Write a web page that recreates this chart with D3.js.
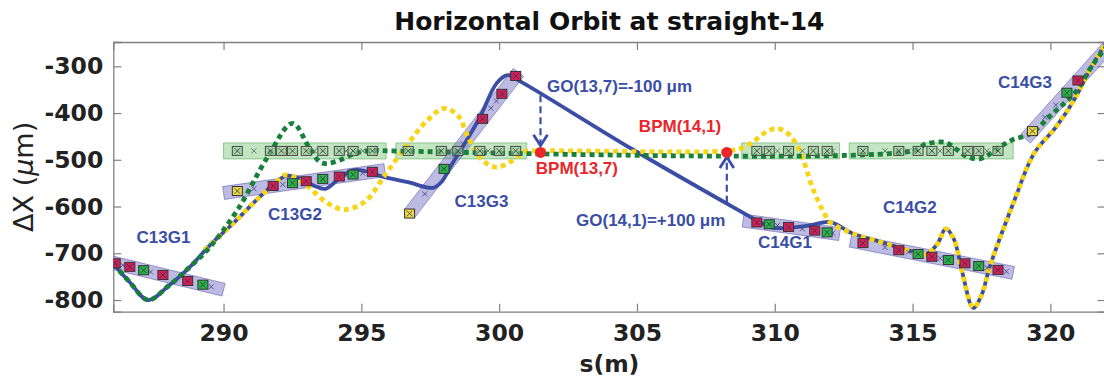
<!DOCTYPE html>
<html>
<head>
<meta charset="utf-8">
<script src="https://cdn.jsdelivr.net/npm/d3@7"></script>
<style>
  body { margin: 0; background: #fff; }
  text { font-family: "DejaVu Sans", sans-serif; }
</style>
</head>
<body>
<svg id="chart"></svg>
<script>
// ---- data (s in m, dX in um) ----
const sBlue = [286.0, 286.6, 287.26, 288.0, 288.8, 289.5, 290.35, 291.2, 291.9, 292.3, 292.8, 293.3, 293.7, 294.2, 294.7, 295.2, 295.7, 296.7, 297.6, 297.9, 298.3, 298.7, 299.3, 299.9, 300.3, 300.7, 304.85, 308.6, 309.3, 309.9, 310.6, 311.3, 312.0, 312.8, 313.8, 314.8, 315.5, 315.9, 316.2, 316.5, 316.8, 317.2, 317.5, 317.8, 318.7, 319.4, 320.2, 320.85, 321.5, 322.2];
const vBlue = [-723, -762, -800, -770, -728, -683, -636, -586, -548, -534, -540, -556, -562, -540, -522, -525, -535, -548, -560, -548, -508, -470, -409, -337, -319, -330, -478, -605, -628, -645, -645, -640, -633, -657, -675, -693, -702, -680, -648, -670, -740, -817, -790, -729, -586, -487, -430, -373, -300, -235];

const sYellow = [289.3, 289.5, 290.35, 291.2, 291.9, 292.2, 292.6, 293.1, 293.7, 294.3, 294.7, 295.2, 295.9, 296.6, 297.4, 298.0, 298.5, 298.9, 299.4, 299.9, 300.5, 300.9, 301.3, 308.3, 308.8, 309.2, 309.7, 310.1, 310.5, 310.9, 311.4, 311.8, 312.0, 312.8, 313.8, 314.8, 315.5, 315.9, 316.2, 316.5, 316.8, 317.2, 317.5, 317.8, 318.7, 319.4, 320.2, 320.85, 321.5, 322.2];
const vYellow = [-693, -683, -636, -586, -548, -533, -538, -559, -590, -606, -603, -586, -529, -473, -415, -390, -405, -455, -501, -516, -501, -483, -481, -481, -475, -462, -440, -433, -445, -480, -565, -615, -633, -657, -675, -693, -702, -680, -648, -670, -740, -817, -790, -729, -586, -487, -430, -373, -300, -235];

const sGreen = [286.0, 286.6, 287.26, 288.0, 288.8, 289.5, 290.5, 291.6, 292.5, 293.1, 293.5, 293.75, 294.2, 294.8, 295.4, 296.0, 315.0, 315.5, 316.2, 316.6, 317.0, 317.5, 318.1, 318.6, 319.3, 320.1, 320.9, 321.5, 322.2];
const vGreen = [-723, -762, -800, -770, -728, -687, -608, -494, -422, -473, -505, -508, -501, -486, -480, -481, -481, -466, -463, -478, -494, -497, -475, -458, -443, -400, -356, -300, -245];

// girders (misaligned, purple) : start / end of centre line
const girderName = ["C13G1", "C13G2", "C13G3", "C14G1", "C14G2", "C14G3"];
const girderS0 = [285.9, 290.0, 296.75, 308.85, 312.75, 319.1];
const girderV0 = [-719, -571, -615, -630, -673, -455];
const girderS1 = [290.0, 295.85, 300.7, 312.35, 318.65, 322.3];
const girderV1 = [-778, -522, -313, -659, -742, -245];

// squares on the girders (r = red, g = green, y = yellow)
const girderMarkS = [
  [286.07, 286.6, 287.1, 287.8, 288.7, 289.25],
  [290.5, 291.8, 292.5, 293.0, 293.6, 294.2, 294.7, 295.4],
  [296.75, 298.0, 299.4, 300.1, 300.6],
  [309.35, 309.8, 310.5, 311.45, 311.9],
  [313.2, 314.5, 315.2, 315.7, 316.3, 316.9, 317.4, 318.1],
  [319.35, 320.6, 321.0]
];
const girderMarkType = [
  ["r", "r", "g", "r", "r", "g"],
  ["y", "r", "g", "r", "g", "r", "g", "r"],
  ["y", "g", "r", "r", "r"],
  ["r", "g", "r", "r", "g"],
  ["r", "r", "g", "r", "g", "r", "g", "r"],
  ["y", "g", "r"]
];
const girderCrossS = [
  [286.35, 287.35, 289.55],
  [291.1, 292.15, 294.45, 295.05],
  [297.3, 298.4, 298.7, 299.7, 299.9],
  [310.1, 311.0, 312.1],
  [314.0, 314.85, 316.0, 317.7, 318.4],
  [319.8, 320.2]
];

// aligned girders (green, flat)
const flatLevel = -481;
const flatS0 = [290.0, 296.25, 308.8, 312.7];
const flatS1 = [295.9, 301.0, 312.35, 318.65];
const flatMarkS = [290.5, 291.7, 292.1, 292.5, 293.0, 293.6, 294.2, 294.7, 295.4,
  296.7, 297.9, 298.5, 299.3, 300.0, 300.6,
  309.35, 309.8, 310.5, 311.4, 311.9,
  313.2, 314.5, 315.2, 315.7, 316.3, 317.0, 317.4, 318.1];
const flatCrossS = [291.1, 292.3, 293.3, 294.45, 295.05, 298.2, 299.6, 310.1, 311.0, 312.1, 314.0, 314.85, 316.0, 317.7];

// BPMs and correctors
const bpmName = ["BPM(13,7)", "BPM(14,1)"];
const bpmS = [301.5, 308.26];
const goFrom = [-362, -592];
const goTo = [-470, -494];

// annotation texts and where they sit (data coords)
const noteText = ["C13G1", "C13G2", "C13G3", "C14G1", "C14G2", "C14G3",
  "GO(13,7)=-100 \u03bcm", "BPM(14,1)", "BPM(13,7)", "GO(14,1)=+100 \u03bcm"];
const noteS = [287.82, 292.59, 299.36, 310.37, 314.9, 319.08, 304.37, 306.56, 302.82, 305.5];
const noteV = [-678, -629, -601, -689, -614, -347, -356, -441, -531, -642];
const noteRed = [false, false, false, false, false, false, false, true, true, false];

const xTicks = [290, 295, 300, 305, 310, 315, 320];
const yTicks = [-300, -400, -500, -600, -700, -800];

// ---- drawing ----
const W = 1104, H = 380;
const BLUE = "#3b4ea6", YEL = "#f7d516", GRN = "#17813a", RED = "#e8262b";

const svg = d3.select('#chart').attr('width', W).attr('height', H);

const x = d3.scaleLinear().domain([286, 322]).range([113.3, 1105.5]);
const y = d3.scaleLinear().domain([-825, -248]).range([311.7, 42]);

svg.append('clipPath').attr('id', 'plotClip')
  .append('rect')
  .attr('x', x.range()[0]).attr('y', y.range()[1])
  .attr('width', x.range()[1] - x.range()[0])
  .attr('height', y.range()[0] - y.range()[1]);

// axes with inward ticks
const axisCol = '#808080';
const gx = svg.append('g').attr('transform', `translate(0,${y.range()[0]})`)
  .call(d3.axisBottom(x).tickValues(xTicks).tickSize(-8).tickPadding(13).tickFormat(d3.format('d')));
const gy = svg.append('g').attr('transform', `translate(${x.range()[0]},0)`)
  .call(d3.axisLeft(y).tickValues(yTicks).tickSize(-8).tickPadding(10).tickFormat(d => String(d)));
svg.append('g').attr('transform', `translate(0,${y.range()[1]})`)
  .call(d3.axisTop(x).tickValues(xTicks).tickSize(-8).tickFormat(''));
svg.append('g').attr('transform', `translate(${x.range()[1]},0)`)
  .call(d3.axisRight(y).tickValues(yTicks).tickSize(-8).tickFormat(''));

svg.selectAll('.domain').attr('stroke', axisCol).attr('stroke-width', 1.3);
svg.selectAll('.tick line').attr('stroke', axisCol).attr('stroke-width', 1.2);
[gx, gy].forEach(g => g.selectAll('.tick text')
  .style('font-family', '"DejaVu Sans", sans-serif')
  .style('font-size', '23.5px')
  .style('font-weight', 'bold')
  .attr('fill', '#222'));

// titles
svg.append('text')
  .attr('x', (x.range()[0] + x.range()[1]) / 2).attr('y', 30)
  .attr('text-anchor', 'middle')
  .style('font-size', '25px').style('font-weight', 'bold').attr('fill', '#111')
  .text('Horizontal Orbit at straight-14');

svg.append('text')
  .attr('x', (x.range()[0] + x.range()[1]) / 2).attr('y', 372)
  .attr('text-anchor', 'middle')
  .style('font-size', '23.5px').style('font-weight', 'bold').attr('fill', '#222')
  .text('s(m)');

const yl = svg.append('text')
  .attr('transform', `translate(33,${(y.range()[0] + y.range()[1]) / 2}) rotate(-90)`)
  .attr('text-anchor', 'middle')
  .style('font-size', '27px').attr('fill', '#222');
yl.append('tspan').text('\u0394X (');
yl.append('tspan').style('font-style', 'italic').text('\u03bc');
yl.append('tspan').text('m)');

const plot = svg.append('g').attr('clip-path', 'url(#plotClip)');

// girder boxes
function bandPoly(sa, va, sb, vb, half) {
  const x0 = x(sa), y0 = y(va), x1 = x(sb), y1 = y(vb);
  const len = Math.hypot(x1 - x0, y1 - y0);
  const nx = -(y1 - y0) / len * half, ny = (x1 - x0) / len * half;
  return [[x0 + nx, y0 + ny], [x1 + nx, y1 + ny], [x1 - nx, y1 - ny], [x0 - nx, y0 - ny]]
    .map(p => p.join(',')).join(' ');
}

plot.selectAll('polygon.flat')
  .data(flatS0)
  .join('polygon').attr('class', 'flat')
  .attr('points', (s, i) => bandPoly(s, flatLevel, flatS1[i], flatLevel, 8))
  .attr('fill', 'rgba(120,200,120,0.45)')
  .attr('stroke', 'rgba(90,170,90,0.6)').attr('stroke-width', 1);

plot.selectAll('polygon.girder')
  .data(girderName)
  .join('polygon').attr('class', 'girder')
  .attr('points', (_, i) => bandPoly(girderS0[i], girderV0[i], girderS1[i], girderV1[i], 6.5))
  .attr('fill', 'rgba(125,120,200,0.5)')
  .attr('stroke', 'rgba(100,95,180,0.6)').attr('stroke-width', 1);

// orbit lines
const zip = (a, b) => a.map((s, i) => [s, b[i]]);
const line = d3.line().x(d => x(d[0])).y(d => y(d[1])).curve(d3.curveCatmullRom.alpha(0.5));

plot.append('path').attr('d', line(zip(sBlue, vBlue)))
  .attr('fill', 'none').attr('stroke', BLUE).attr('stroke-width', 3.8)
  .attr('stroke-linejoin', 'round');
plot.append('path').attr('d', line(zip(sYellow, vYellow)))
  .attr('fill', 'none').attr('stroke', YEL).attr('stroke-width', 4.8)
  .attr('stroke-dasharray', '5,4');
plot.append('path').attr('d', line(zip(sGreen, vGreen)))
  .attr('fill', 'none').attr('stroke', GRN).attr('stroke-width', 4.8)
  .attr('stroke-dasharray', '5,4');

// markers
const fills = { r: '#d21f5c', g: '#27b24a', y: '#e9d84c' };
function girderV(i, s) {
  const t = (s - girderS0[i]) / (girderS1[i] - girderS0[i]);
  return girderV0[i] + t * (girderV1[i] - girderV0[i]);
}
function drawCross(g, cx, cy, h, col, w) {
  g.append('path')
    .attr('d', `M${cx - h},${cy - h}L${cx + h},${cy + h}M${cx - h},${cy + h}L${cx + h},${cy - h}`)
    .attr('stroke', col).attr('stroke-width', w).attr('fill', 'none');
}
function drawSquare(g, cx, cy, fill, stroke) {
  g.append('rect').attr('x', cx - 5).attr('y', cy - 4.5).attr('width', 10).attr('height', 9)
    .attr('fill', fill).attr('stroke', stroke).attr('stroke-width', 1);
  drawCross(g, cx, cy, 2.8, '#333', 0.8);
}

const marks = plot.append('g');
flatCrossS.forEach(s => drawCross(marks, x(s), y(flatLevel), 2.5, '#666', 0.9));
flatMarkS.forEach(s => drawSquare(marks, x(s), y(flatLevel), 'rgba(150,200,150,0.6)', '#4a4a4a'));
girderName.forEach((_, i) => {
  girderCrossS[i].forEach(s => drawCross(marks, x(s), y(girderV(i, s)), 2.5, '#4a4a8a', 0.9));
  girderMarkS[i].forEach((s, j) =>
    drawSquare(marks, x(s), y(girderV(i, s)), fills[girderMarkType[i][j]], '#333'));
});

// corrector arrows
bpmS.forEach((s, i) => {
  const cx = x(s), y0 = y(goFrom[i]), y1 = y(goTo[i]);
  const dir = y1 > y0 ? 1 : -1;
  svg.append('line').attr('x1', cx).attr('x2', cx).attr('y1', y0).attr('y2', y1)
    .attr('stroke', BLUE).attr('stroke-width', 2.2).attr('stroke-dasharray', '7,4');
  svg.append('path')
    .attr('d', `M${cx - 7},${y1 - dir * 11}L${cx},${y1}L${cx + 7},${y1 - dir * 11}`)
    .attr('fill', 'none').attr('stroke', BLUE).attr('stroke-width', 2.8);
});

// BPM dots
svg.selectAll('circle.bpm')
  .data(bpmS)
  .join('circle').attr('class', 'bpm')
  .attr('cx', d => x(d)).attr('cy', y(flatLevel) + 1.5).attr('r', 5.5)
  .attr('fill', RED);

// annotations
svg.selectAll('text.note')
  .data(noteText)
  .join('text').attr('class', 'note')
  .attr('x', (_, i) => x(noteS[i])).attr('y', (_, i) => y(noteV[i]))
  .attr('text-anchor', 'middle')
  .style('font-family', '"Liberation Sans", Arial, sans-serif')
  .style('font-size', '17px').style('font-weight', 'bold')
  .attr('fill', (_, i) => noteRed[i] ? RED : BLUE)
  .text(d => d);
</script>
</body>
</html>
